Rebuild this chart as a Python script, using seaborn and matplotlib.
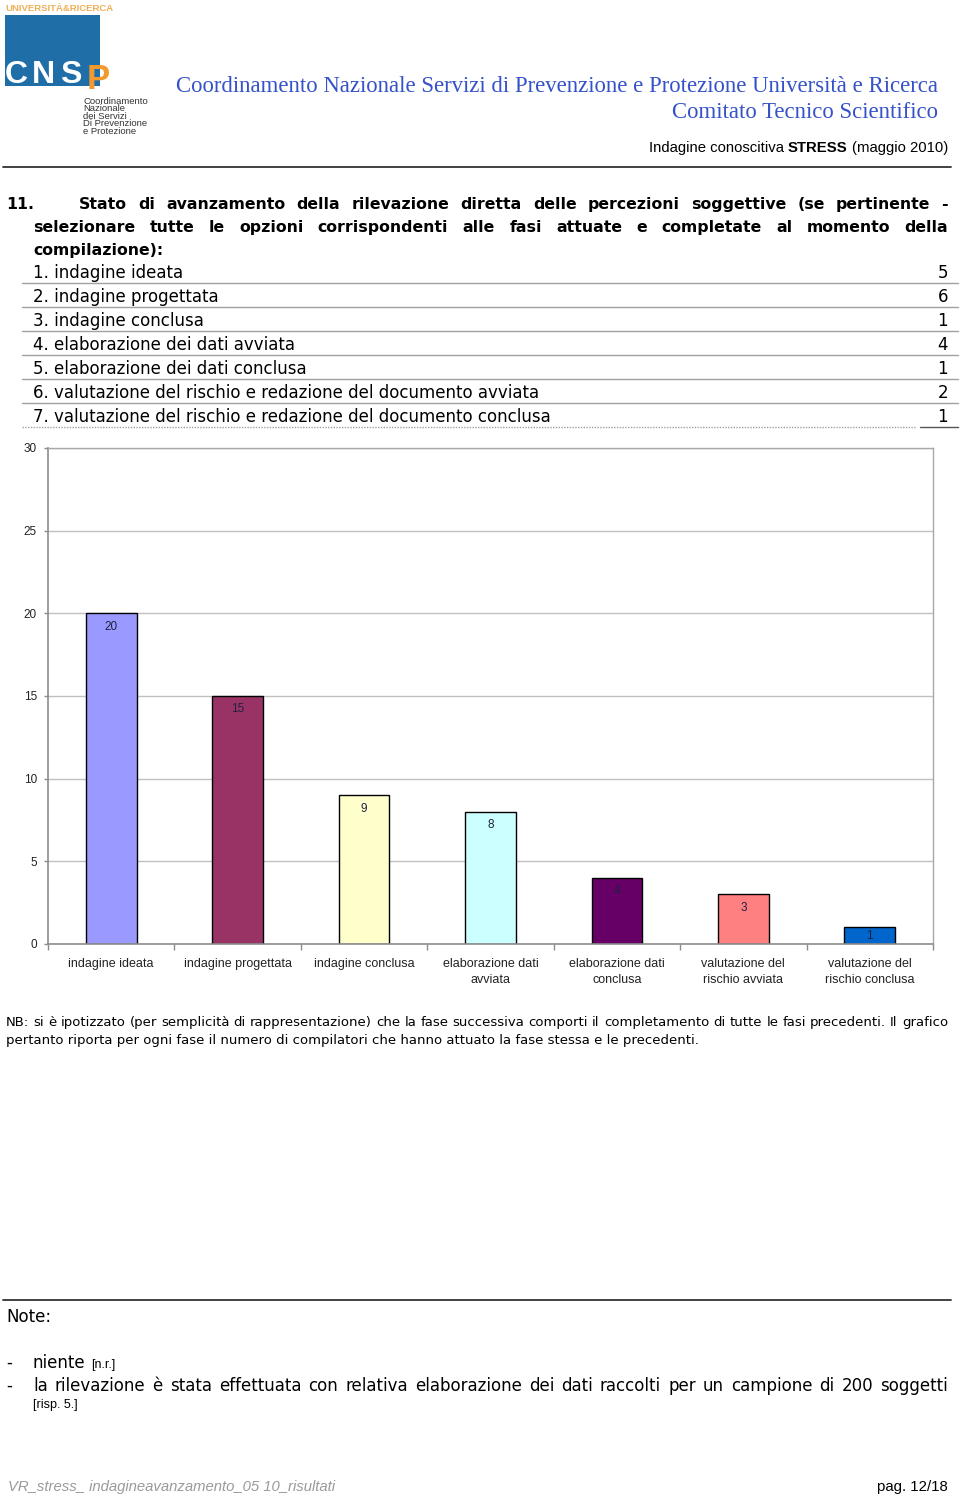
import matplotlib
matplotlib.use("Agg")
import numpy as np
import pandas as pd
import matplotlib.pyplot as plt
import seaborn as sns
from matplotlib.patches import Rectangle

# ---------------- data ----------------
categories = ["indagine ideata", "indagine progettata", "indagine conclusa",
              "elaborazione dati\navviata", "elaborazione dati\nconclusa",
              "valutazione del\nrischio avviata", "valutazione del\nrischio conclusa"]
values = [20, 15, 9, 8, 4, 3, 1]
bar_colors = ["#9999FF", "#993366", "#FFFFCC", "#CCFFFF", "#660066", "#FF8080", "#0066CC"]
y_ticks = [0, 5, 10, 15, 20, 25, 30]

table_items = ["1. indagine ideata", "2. indagine progettata", "3. indagine conclusa",
               "4. elaborazione dei dati avviata", "5. elaborazione dei dati conclusa",
               "6. valutazione del rischio e redazione del documento avviata",
               "7. valutazione del rischio e redazione del documento conclusa"]
table_counts = [5, 6, 1, 4, 1, 2, 1]

# ---------------- style ----------------
sns.set_theme(style="white")
plt.rcParams["font.family"] = ["Liberation Sans", "DejaVu Sans"]
BODY = ["DejaVu Sans"]

W, H = 960, 1496
fig = plt.figure(figsize=(W / 100, H / 100), dpi=100)
fig.patch.set_facecolor("white")

ov = fig.add_axes([0, 0, 1, 1])
ov.set_xlim(0, W)
ov.set_ylim(H, 0)
ov.axis("off")

renderer = fig.canvas.get_renderer()


def twidth(s, **kw):
    t = ov.text(0, 0, s, **kw)
    w = t.get_window_extent(renderer).width
    t.remove()
    return w


def base(y, size):
    return y + 0.37 * size * 100 / 72


def justify(line, x0, x1, y, **kw):
    words = line.split(" ")
    widths = [twidth(w, **kw) for w in words]
    gap = (x1 - x0 - sum(widths)) / max(len(words) - 1, 1)
    yb = base(y, kw.get("fontsize", 10))
    x = x0
    for w, wd in zip(words, widths):
        ov.text(x, yb, w, ha="left", va="baseline", **kw)
        x += wd + gap


# ---------------- logo ----------------
ov.text(5, 8.5, "UNIVERSITÀ&RICERCA", fontsize=6.8, fontweight="bold", color="#EFAE55",
        ha="left", va="center")
ov.add_patch(Rectangle((5, 15), 95, 71, facecolor="#1F6EA8", edgecolor="none"))
for ch, xx in zip("CNS", [5, 32, 60]):
    ov.text(xx, 83, ch, fontsize=23, fontweight="bold", color="white", ha="left", va="baseline")
ov.text(87, 89, "P", fontsize=25, fontweight="bold", color="#F29A2E", ha="left", va="baseline")
for i, s in enumerate(["Coordinamento", "Nazionale", "dei Servizi", "Di Prevenzione", "e Protezione"]):
    ov.text(83, 101 + 7.6 * i, s, fontsize=6.8, color="#333333", ha="left", va="center")

# ---------------- header ----------------
ov.text(938, 86, "Coordinamento Nazionale Servizi di Prevenzione e Protezione Università e Ricerca",
        fontsize=16.4, family="Liberation Serif", color="#3552C8", ha="right", va="center")
ov.text(938, 112, "Comitato Tecnico Scientifico",
        fontsize=16.4, family="Liberation Serif", color="#3552C8", ha="right", va="center")

parts = [("Indagine conoscitiva", "normal"), ("STRESS", "bold"), ("(maggio 2010)", "normal")]
hsize = 10.7
space = twidth("a a", fontsize=hsize) - twidth("aa", fontsize=hsize)
pw = [twidth(p, fontsize=hsize, fontweight=fw) for p, fw in parts]
x = 948 - sum(pw) - space * (len(parts) - 1)
for (p, fw), w in zip(parts, pw):
    ov.text(x, 152, p, fontsize=hsize, fontweight=fw, color="black", ha="left", va="baseline")
    x += w + space
ov.plot([3, 951], [167, 167], color="#333333", lw=1.3)

# ---------------- question ----------------
qs = 11.3
qkw = dict(fontsize=qs, fontweight="bold", color="black", family=BODY)
ov.text(6, base(203, qs), "11.", ha="left", va="baseline", **qkw)
justify("Stato di avanzamento della rilevazione diretta delle percezioni soggettive (se pertinente -",
        79, 948, 203, **qkw)
justify("selezionare tutte le opzioni corrispondenti alle fasi attuate e completate al momento della",
        33, 948, 226, **qkw)
ov.text(33, base(249, qs), "compilazione):", ha="left", va="baseline", **qkw)

for i, (item, cnt) in enumerate(zip(table_items, table_counts)):
    y = 272 + 24 * i
    ov.text(33, base(y, 12), item, fontsize=12, color="black", ha="left", va="baseline", family=BODY)
    ov.text(948, base(y, 12), str(cnt), fontsize=12, color="black", ha="right", va="baseline",
            family=BODY)
    ly = y + 11
    if i < len(table_items) - 1:
        ov.plot([22, 958], [ly, ly], color="#a0a0a0", lw=1)
    else:
        ov.plot([22, 915], [ly, ly], color="#a0a0a0", lw=1, ls=(0, (1, 1)))
        ov.plot([920, 958], [ly, ly], color="#555555", lw=1)

# ---------------- chart ----------------
ax = fig.add_axes([48 / W, 1 - 944 / H, 885 / W, 496 / H])
df = pd.DataFrame({"fase": categories, "n": values})
sns.barplot(data=df, x="fase", y="n", hue="fase", palette=bar_colors, legend=False,
            width=0.4, saturation=1, edgecolor="black", linewidth=1, ax=ax)
ax.set_xlim(-0.5, len(categories) - 0.5)
ax.set_ylim(0, 30)
ax.set_yticks(y_ticks)
ax.set_xlabel("")
ax.set_ylabel("")
ax.yaxis.grid(True, color="#c0c0c0", lw=1)
ax.set_axisbelow(True)
for side, sp in ax.spines.items():
    sp.set_visible(True)
    sp.set_color("#8c8c8c" if side in ("left", "bottom") else "#a8a8a8")
    sp.set_linewidth(1.2 if side in ("left", "bottom") else 1)

ax.tick_params(axis="y", left=True, length=3, width=1, color="#8c8c8c",
               labelsize=8.5, pad=5, labelcolor="#222222")
ax.set_xticks(np.arange(len(categories) + 1) - 0.5, minor=True)
ax.tick_params(axis="x", which="major", bottom=False, length=0, pad=10,
               labelsize=9, labelcolor="#222222")
ax.tick_params(axis="x", which="minor", bottom=True, length=4, width=1, color="#8c8c8c")
for lbl in ax.get_xticklabels():
    lbl.set_linespacing(1.45)

for cont, v in zip(ax.containers, values):
    if v >= 3:
        ax.bar_label(cont, padding=-14, fontsize=8.5, color="#202040")
    else:
        ax.bar_label(cont, label_type="center", fontsize=8.5, color="#202040")

# ---------------- NB note ----------------
ns = 9.5
nkw = dict(fontsize=ns, color="black", family=BODY)
justify("NB: si è ipotizzato (per semplicità di rappresentazione) che la fase successiva comporti "
        "il completamento di tutte le fasi precedenti. Il grafico", 6, 948, 1021, **nkw)
ov.text(6, base(1039, ns), "pertanto riporta per ogni fase il numero di compilatori "
        "che hanno attuato la fase stessa e le precedenti.", ha="left", va="baseline", **nkw)

# ---------------- Note section ----------------
ov.plot([3, 951], [1300, 1300], color="#333333", lw=1.3)
ts = 12
tkw = dict(fontsize=ts, color="black", family=BODY)
ov.text(6, base(1316, ts), "Note:", ha="left", va="baseline", **tkw)
ov.text(6, base(1362, ts), "-", ha="left", va="baseline", **tkw)
ov.text(33, base(1362, ts), "niente", ha="left", va="baseline", **tkw)
wn = twidth("niente", **tkw)
ov.text(33 + wn + 5, base(1362, ts), "[n.r.]", fontsize=9, color="black", ha="left", va="baseline")
ov.text(6, base(1385, ts), "-", ha="left", va="baseline", **tkw)
justify("la rilevazione è stata effettuata con relativa elaborazione dei dati raccolti per un "
        "campione di 200 soggetti", 33, 948, 1385, **tkw)
ov.text(33, 1405, "[risp. 5.]", fontsize=9, color="black", ha="left", va="center")

# ---------------- footer ----------------
ov.text(8, 1487, "VR_stress_ indagineavanzamento_05 10_risultati", fontsize=10.7,
        style="italic", color="#9a9a9a", ha="left", va="center")
ov.text(948, 1487, "pag. 12/18", fontsize=10.8, color="black", ha="right", va="center")

fig.savefig("out.png", dpi=100, facecolor="white")
